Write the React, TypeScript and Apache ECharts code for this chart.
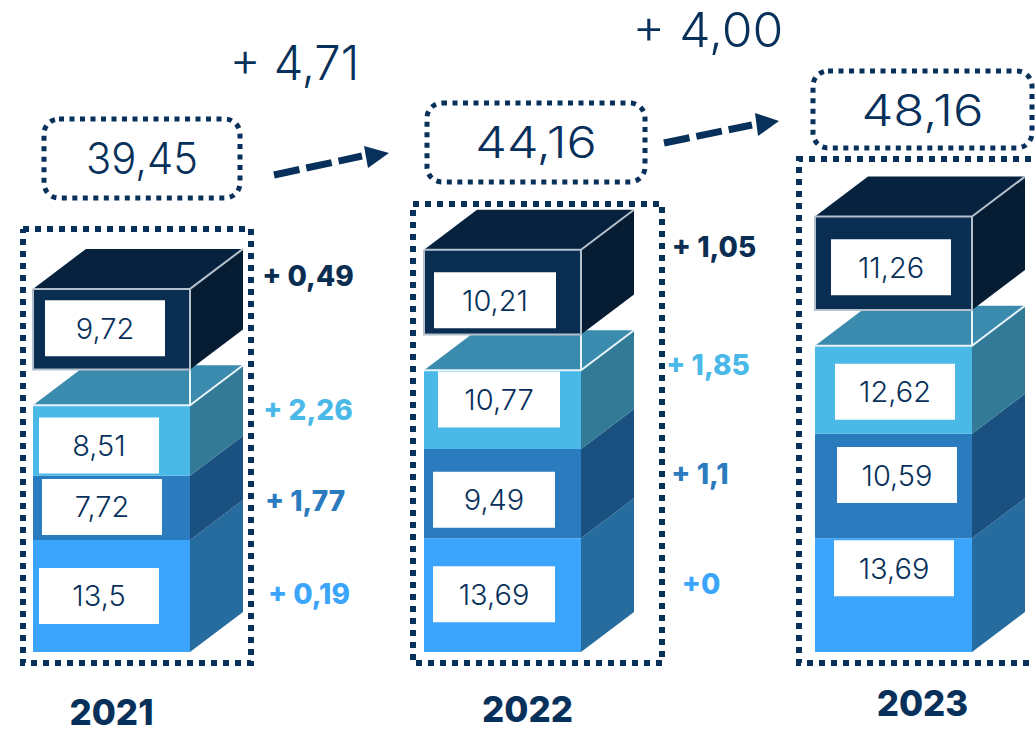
import React, { useEffect, useRef } from "react";
import * as echarts from "echarts";

// ---- data ----
const years = ["2021", "2022", "2023"];
const totals = ["39,45", "44,16", "48,16"];
const growth = ["+ 4,71", "+ 4,00"];

// drawn heights of the bands (value units) - bottom to top
const baseHeights = [13.5, 13.69, 13.69];
const midHeights = [7.72, 10.77, 12.62];
const lightHeights = [8.51, 9.49, 10.59];
const darkHeights = [9.72, 10.21, 11.26];

// printed labels on the bands
const baseLabels = ["13,5", "13,69", "13,69"];
const midLabels = ["7,72", "9,49", "10,59"];
const lightLabels = ["8,51", "10,77", "12,62"];
const darkLabels = ["9,72", "10,21", "11,26"];

// printed deltas
const baseDeltas = ["+ 0,19", "+0", ""];
const midDeltas = ["+ 1,77", "+ 1,1", ""];
const lightDeltas = ["+ 2,26", "+ 1,85", ""];
const darkDeltas = ["+ 0,49", "+ 1,05", ""];

// ---- layout & style ----
const FONT = "Inter";
const NAVY = "#07305a";
const W = 1036;
const H = 733;
const BASELINE = 652;
const PX_PER_UNIT = 8.3;
const COL_START = 111.5;
const COL_STEP = 391;
const FRONT_W = 157;
const DEPTH_X = 53;
const DEPTH_Y = 40;
const GAP_UNITS = 4.3;
const BOX_WIDTHS = [120, 122, 120];
const BOX_H = 56;
const LABEL_SCALE = 1.0;
const LIGHT_WEIGHT = 300;
const TOTAL_SCALES = [0.97, 1.17, 1.18];
const GROWTH_SCALES = [0.98, 1.04];

const BAND_STYLES = [
  { front: "#3ba5fb", side: "#276c9f", top: null, edge: null },
  { front: "#2b7cbf", side: "#1a5180", top: null, edge: null },
  { front: "#4ab9e8", side: "#337a96", top: "#3a8bae", edge: "#e8f4fa" },
  { front: "#0a2d52", side: "#051c33", top: "#07223f", edge: "#b4c0cb" },
];
// label-box offset from the band's centre, per band and per column: [dx from front-left, dy]
const BOX_NUDGE = [
  [[6, 0], [9, -1], [19, -27]],
  [[9, -1], [9, 6], [22, -11]],
  [[6, 5], [14, -10], [20, 2]],
  [[12, -1], [10, 8], [16, 4]],
];
const DELTA_POS = [
  [[309, 594], [701, 584]],
  [[305, 501], [700, 474]],
  [[308, 410], [708, 365]],
  [[308, 276], [714, 247]],
];
const FRAMES = [
  [[23, 229], [251, 229], [251, 663], [23, 663], [23, 229]],
  [[413, 204], [662, 204], [662, 663], [413, 663], [413, 204]],
  [[1031, 159], [799, 159], [799, 663], [1034, 663]],
];
const TOTAL_BOXES = [
  [44, 119, 196, 79],
  [427, 103, 218, 79],
  [813, 71, 219, 77],
];
const YEAR_POS = [[111.5, 712], [527.5, 709], [922.5, 703]];
const GROWTH_POS = [[294.5, 62], [708, 30]];
const ARROWS = [
  [274, 175, 362, 156, 389, 153, 364, 146, 368, 168],
  [664, 143, 752, 125, 779, 121, 755, 113, 758, 136],
];

function bandSeries(band: number, heights: number[], starts: number[], labels: string[]) {
  const st = BAND_STYLES[band];
  const data = years.map((_, i) => [i, starts[i], starts[i] + heights[i], labels[i]]);
  return {
    type: "custom",
    z: 2 + band,
    clip: false,
    silent: true,
    data,
    encode: { x: 0, y: [1, 2] },
    renderItem: (params: any, api: any) => {
      const i = api.value(0);
      const bottom = api.coord([i, api.value(1)]);
      const top = api.coord([i, api.value(2)]);
      const l = bottom[0] - FRONT_W / 2;
      const r = l + FRONT_W;
      const yb = bottom[1];
      const yt = top[1];
      const children: any[] = [];
      if (st.top) {
        children.push({
          type: "polygon",
          shape: { points: [[l, yt], [l + DEPTH_X, yt - DEPTH_Y], [r + DEPTH_X, yt - DEPTH_Y], [r, yt]] },
          style: { fill: st.top },
        });
      }
      children.push({
        type: "polygon",
        shape: { points: [[r, yb], [r + DEPTH_X, yb - DEPTH_Y], [r + DEPTH_X, yt - DEPTH_Y], [r, yt]] },
        style: { fill: st.side },
      });
      children.push({
        type: "rect",
        shape: { x: l, y: yt, width: FRONT_W, height: yb - yt },
        style: { fill: st.front },
      });
      if (st.edge) {
        children.push({
          type: "polyline",
          shape: { points: [[l, yt], [r, yt], [r + DEPTH_X, yt - DEPTH_Y]] },
          style: { fill: "none", stroke: st.edge, lineWidth: 2 },
        });
        if (band === 3) {
          children.push({
            type: "polyline",
            shape: { points: [[l, yt], [l, yb], [r, yb], [r, yt]] },
            style: { fill: "none", stroke: st.edge, lineWidth: 2 },
          });
        } else {
          children.push({
            type: "line",
            shape: { x1: r, y1: yt, x2: r, y2: yt - GAP_UNITS * PX_PER_UNIT },
            style: { stroke: st.edge, lineWidth: 2 },
          });
        }
      }
      const n = BOX_NUDGE[band][i];
      const bw = BOX_WIDTHS[i];
      const bx = l + n[0];
      const by = (yb + yt) / 2 + n[1] - BOX_H / 2;
      children.push({
        type: "rect",
        shape: { x: bx, y: by, width: bw, height: BOX_H },
        style: { fill: "#ffffff" },
      });
      children.push({
        type: "text",
        x: bx + bw / 2,
        y: by + BOX_H / 2,
        scaleX: LABEL_SCALE,
        style: {
          text: api.value(3),
          x: 0,
          y: 0,
          fontFamily: FONT,
          fontSize: 29,
          fontWeight: LIGHT_WEIGHT,
          fill: NAVY,
          align: "center",
          verticalAlign: "middle",
        },
      });
      return { type: "group", children };
    },
  };
}

function txt(text: string, x: number, y: number, size: number, weight: number, fill: string, sx = 1) {
  return {
    type: "text",
    x,
    y,
    scaleX: sx,
    z: 20,
    style: { text, x: 0, y: 0, fontFamily: FONT, fontSize: size, lineHeight: size, fontWeight: weight, fill, align: "center", verticalAlign: "middle" },
  };
}

function buildOption() {
  const midStarts = baseHeights;
  const lightStarts = baseHeights.map((b, i) => b + midHeights[i]);
  const darkStarts = lightStarts.map((s, i) => s + lightHeights[i] + GAP_UNITS);

  const graphics: any[] = [];
  FRAMES.forEach((points) => {
    graphics.push({
      type: "polyline",
      z: 10,
      shape: { points },
      style: { fill: "none", stroke: NAVY, lineWidth: 6, lineDash: [6, 6] },
    });
  });
  TOTAL_BOXES.forEach(([x, y, w, h], i) => {
    graphics.push({
      type: "rect",
      z: 10,
      shape: { x, y, width: w, height: h, r: 15 },
      style: { fill: "none", stroke: NAVY, lineWidth: 5, lineDash: [5, 5.5] },
    });
    graphics.push(txt(totals[i], x + w / 2, y + h / 2, 43, LIGHT_WEIGHT, NAVY, TOTAL_SCALES[i]));
  });
  ARROWS.forEach((a) => {
    graphics.push({
      type: "line",
      z: 10,
      shape: { x1: a[0], y1: a[1], x2: a[2], y2: a[3] },
      style: { stroke: NAVY, lineWidth: 7, lineDash: [26, 7] },
    });
    graphics.push({
      type: "polygon",
      z: 10,
      shape: { points: [[a[4], a[5]], [a[6], a[7]], [a[8], a[9]]] },
      style: { fill: NAVY },
    });
  });
  growth.forEach((g, i) => graphics.push(txt(g, GROWTH_POS[i][0], GROWTH_POS[i][1], 48, LIGHT_WEIGHT, NAVY, GROWTH_SCALES[i])));
  years.forEach((y, i) => graphics.push(txt(y, YEAR_POS[i][0], YEAR_POS[i][1], 36, 800, NAVY, 0.97)));
  [baseDeltas, midDeltas, lightDeltas, darkDeltas].forEach((arr, band) => {
    DELTA_POS[band].forEach((p, i) => {
      graphics.push(txt(arr[i], p[0], p[1], 28, 800, BAND_STYLES[band].front, 1.0));
    });
  });

  return {
    animation: false,
    backgroundColor: "#ffffff",
    grid: { left: 0, right: 0, top: 0, bottom: 0 },
    xAxis: {
      type: "value",
      show: false,
      min: -COL_START / COL_STEP,
      max: (W - COL_START) / COL_STEP,
    },
    yAxis: {
      type: "value",
      show: false,
      min: (BASELINE - H) / PX_PER_UNIT,
      max: BASELINE / PX_PER_UNIT,
    },
    series: [
      bandSeries(0, baseHeights, years.map(() => 0), baseLabels),
      bandSeries(1, midHeights, midStarts, midLabels),
      bandSeries(2, lightHeights, lightStarts, lightLabels),
      bandSeries(3, darkHeights, darkStarts, darkLabels),
    ],
    graphic: graphics,
  };
}

export default function App() {
  const ref = useRef<HTMLDivElement>(null);
  useEffect(() => {
    const chart = echarts.init(ref.current!, undefined, { renderer: "svg" });
    chart.setOption(buildOption() as any);
    return () => chart.dispose();
  }, []);
  return <div ref={ref} style={{ position: "fixed", left: 0, top: 0, width: W, height: H }} />;
}
